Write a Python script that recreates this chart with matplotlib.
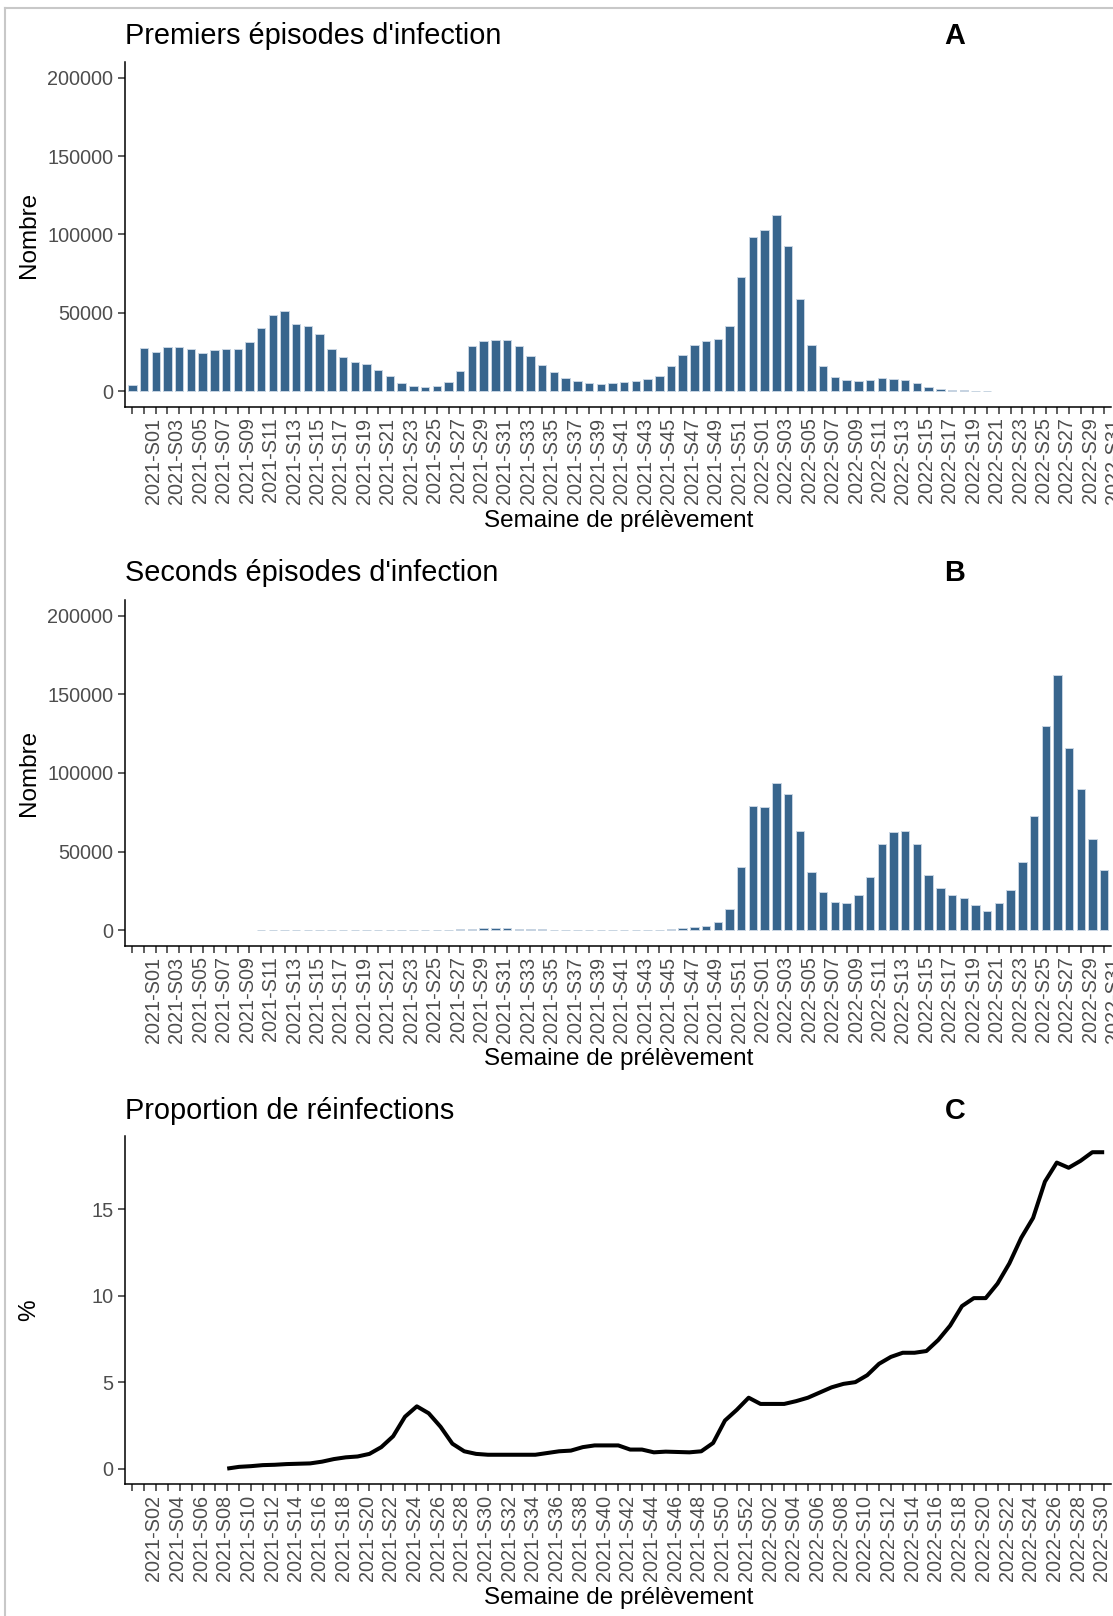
import numpy as np
import matplotlib
import matplotlib.pyplot as plt
from matplotlib.lines import Line2D

# headless backend
matplotlib.use('Agg')

plt.rcParams['font.family'] = ['Liberation Sans', 'DejaVu Sans']

# Weeks (categories on the x axis)
weeks_ab = (['2020-S53']
            + ['2021-S%02d' % w for w in range(1, 53)]
            + ['2022-S%02d' % w for w in range(1, 32)])
weeks_c = weeks_ab[1:]

# A: first infection episodes per week
first_ep = [4200,
            27850, 25300, 28500, 28500, 27200, 24300, 26400, 27200, 27200, 31600,
            40100, 48900, 51500, 42800, 41800, 36500, 26800, 22200, 19000, 17700,
            13300, 9700, 5500, 3400, 2500, 3200, 5900, 13100, 28900, 32300,
            32500, 32500, 28700, 22600, 16900, 12000, 8650, 6540, 5270, 4850,
            5270, 5900, 6540, 7800, 9700, 16000, 23400, 29700, 31900, 33300,
            41400, 72600,
            98700, 103000, 112200, 92600, 58600, 29700, 16000, 9070, 7000, 6540,
            7000, 8440, 8000, 7000, 5270, 2950, 1480, 840, 630, 420,
            210, 0, 0, 0, 0, 0, 0, 0, 0, 0, 0]

# B: second infection episodes per week
second_ep = [0,
             0, 0, 0, 0, 0, 0, 0, 0, 0, 0,
             150, 150, 150, 150, 150, 150, 400, 450, 400, 450,
             350, 300, 300, 250, 300, 350, 450, 700, 1100, 1300,
             1300, 1200, 1000, 700, 500, 350, 300, 300, 300, 300,
             300, 300, 300, 350, 450, 850, 1700, 2300, 3000, 5100,
             13800, 40000,
             78800, 78200, 93400, 86900, 63400, 37300, 24200, 18200, 17400, 22700,
             33700, 54900, 62500, 63400, 54900, 35400, 27100, 22200, 20800, 16300,
             12100, 17400, 25800, 43600, 72900, 129700, 162500, 116100, 89800, 58000,
             38100]

# C: share of reinfections (%), from 2021-S01
reinf_pct = [np.nan] * 8 + [
    0.0, 0.1, 0.14, 0.2, 0.22, 0.26, 0.28, 0.3, 0.4, 0.55,
    0.65, 0.7, 0.85, 1.24, 1.87, 3.0, 3.6, 3.2, 2.42, 1.44,
    1.0, 0.85, 0.8, 0.8, 0.8, 0.8, 0.8, 0.9, 1.0,
    1.04, 1.24, 1.34, 1.34, 1.34, 1.1, 1.1, 0.94, 0.98, 0.96,
    0.94, 1.0, 1.48, 2.78, 3.4, 4.1,
    3.74, 3.74, 3.74, 3.9, 4.1, 4.4, 4.7, 4.9, 5.0, 5.4,
    6.06, 6.46, 6.7, 6.7, 6.8, 7.44, 8.27, 9.4, 9.86, 9.86,
    10.7, 11.87, 13.35, 14.5, 16.6, 17.7, 17.4, 17.8, 18.3, 18.3]

W, H = 1113, 1616
LEFT, RIGHT = 125.3, 1111.3
BAR = '#38658D'
TICK_FS = 14.3


def box(top, bottom):
    return [LEFT / W, 1 - bottom / H, (RIGHT - LEFT) / W, (bottom - top) / H]


def style_axis(ax, labels):
    n = len(labels)
    ax.set_xlim(-0.6, n - 0.4)
    for s in ['top', 'right']:
        ax.spines[s].set_visible(False)
    for s in ['left', 'bottom']:
        ax.spines[s].set_linewidth(1.1)
        ax.spines[s].set_color('black')
    ax.set_xticks(np.arange(n))
    ax.set_xticklabels([lab if i % 2 == 1 else '' for i, lab in enumerate(labels)],
                       rotation=90, ha='left', va='top')
    ax.tick_params(axis='both', length=5, width=1.1, color='#333333',
                   labelcolor='#4D4D4D', labelsize=TICK_FS)
    ax.tick_params(axis='x', pad=2.5)
    ax.tick_params(axis='y', pad=3.5)


def bar_panel(ax, values):
    x = np.arange(len(values))
    v = np.array(values, dtype=float)
    m = v > 0
    ax.bar(x[m], v[m], width=0.72, color=BAR, edgecolor='#C8D5E2',
           linewidth=0.7)
    ax.set_ylim(-10000, 210000)
    ax.set_yticks([0, 50000, 100000, 150000, 200000])
    ax.set_yticklabels(['0', '50000', '100000', '150000', '200000'])
    style_axis(ax, weeks_ab)


fig = plt.figure(figsize=(W / 100, H / 100), dpi=100)

axA = fig.add_axes(box(62, 407))
bar_panel(axA, first_ep)

axB = fig.add_axes(box(600, 946))
bar_panel(axB, second_ep)

axC = fig.add_axes(box(1136.4, 1484.4))
xc = np.arange(len(reinf_pct))
axC.plot(xc, reinf_pct, color='black', linewidth=2.9,
         solid_capstyle='butt', solid_joinstyle='round')
ymax = np.nanmax(reinf_pct)
axC.set_ylim(-0.05 * ymax, 1.05 * ymax)
axC.set_yticks([0, 5, 10, 15])
style_axis(axC, weeks_c)

# Titles, panel letters, axis titles
panels = [('Premiers épisodes d\'infection', 'A', 43.5, 62, 407, 'Nombre', 521),
          ('Seconds épisodes d\'infection', 'B', 581, 600, 946, 'Nombre', 1059.5),
          ('Proportion de réinfections', 'C', 1119, 1136.4, 1484.4, '%', 1598)]
for title, letter, ybase, top, bottom, ylab, yx in panels:
    fig.text(125 / W, 1 - ybase / H, title, fontsize=20.8, ha='left',
             va='baseline', color='black')
    fig.text(955 / W, 1 - ybase / H, letter, fontsize=20.8, ha='center',
             va='baseline', fontweight='bold', color='black')
    fig.text(29 / W, 1 - (top + bottom) / 2 / H, ylab, fontsize=17.5,
             rotation=90, ha='center', va='center', color='black')
    fig.text((LEFT + RIGHT) / 2 / W, 1 - yx / H, 'Semaine de prélèvement',
             fontsize=17.5, ha='center', va='center', color='black')

# light grey frame (left and top edges)
fig.add_artist(Line2D([5 / W, 5 / W], [0, 1 - 8 / H], color='#C8C8C8',
                      linewidth=1.5, transform=fig.transFigure))
fig.add_artist(Line2D([5 / W, 1], [1 - 8 / H, 1 - 8 / H], color='#C8C8C8',
                      linewidth=1.5, transform=fig.transFigure))

fig.savefig('out.png', dpi=100)
